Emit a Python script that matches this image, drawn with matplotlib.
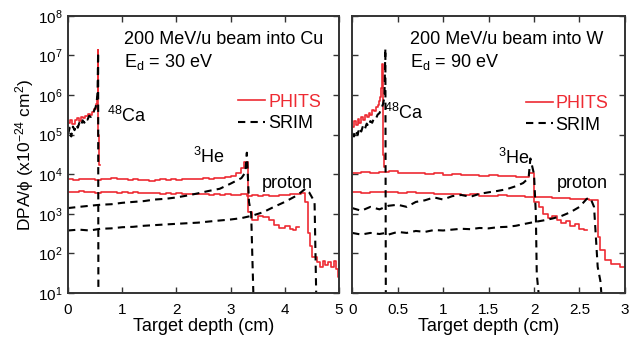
import numpy as np
import matplotlib
matplotlib.use('Agg')
import matplotlib.pyplot as plt
from matplotlib.ticker import NullLocator, FixedLocator

plt.rcParams['font.family'] = ['Liberation Sans', 'DejaVu Sans']
plt.rcParams['mathtext.fontset'] = 'custom'
plt.rcParams['mathtext.rm'] = 'Liberation Sans'
plt.rcParams['mathtext.it'] = 'Liberation Sans:italic'

red = '#ee2b33'

# ---------------- Cu target ----------------
cu_ca_phits_x = [0, 0.04, 0.08, 0.12, 0.16, 0.20, 0.24, 0.28, 0.32, 0.36, 0.40, 0.44,
                 0.48, 0.51, 0.53, 0.545, 0.555, 0.565, 0.575, 0.59]
cu_ca_phits_y = [2.0e5, 2.3e5, 1.9e5, 2.4e5, 2.6e5, 2.2e5, 2.8e5, 2.6e5, 3.0e5, 3.3e5,
                 3.1e5, 3.8e5, 4.5e5, 6e5, 9e5, 1.4e7, 1.0e5, 4e4, 1.7e4, 1.7e4]
cu_ca_srim_x = [0, 0.03, 0.06, 0.09, 0.12, 0.15, 0.18, 0.21, 0.24, 0.27, 0.30, 0.33,
                0.36, 0.39, 0.42, 0.45, 0.48, 0.51, 0.53, 0.545, 0.555, 0.56]
cu_ca_srim_y = [1.0e5, 1.5e5, 0.9e5, 1.6e5, 1.3e5, 1.8e5, 1.5e5, 2.0e5, 1.7e5, 2.3e5,
                2.0e5, 2.6e5, 2.4e5, 3.0e5, 2.8e5, 3.5e5, 4.0e5, 5.0e5, 7e5, 1.2e6,
                1.2e7, 10]

cu_he_phits_x = [0, 0.1, 0.2, 0.3, 0.4, 0.5, 0.6, 0.7, 0.8, 0.9, 1.0, 1.1, 1.2, 1.3,
                 1.4, 1.5, 1.6, 1.7, 1.8, 1.9, 2.0, 2.1, 2.2, 2.3, 2.4, 2.5, 2.6, 2.7,
                 2.8, 2.9, 3.0, 3.1, 3.2, 3.25, 3.33, 3.4, 3.5, 3.6, 3.7, 3.8, 3.9,
                 4.0, 4.1, 4.15, 4.2, 4.26]
cu_he_phits_y = [7.6e3, 7.2e3, 7.8e3, 7.4e3, 7.7e3, 7.3e3, 7.6e3, 7.5e3, 7.9e3, 7.4e3,
                 7.6e3, 7.2e3, 7.5e3, 7.0e3, 7.3e3, 6.9e3, 7.2e3, 7.4e3, 7.1e3, 7.5e3,
                 7.3e3, 7.6e3, 7.4e3, 7.8e3, 7.5e3, 7.9e3, 7.7e3, 8.2e3, 8.0e3, 8.6e3,
                 9.0e3, 1.1e4, 1.4e4, 2.0e4, 1.1e3, 700, 900, 850, 680, 530, 450,
                 500, 420, 380, 470, 470]
cu_he_srim_x = [0, 0.2, 0.4, 0.6, 0.8, 1.0, 1.2, 1.4, 1.6, 1.8, 2.0, 2.2, 2.4, 2.6,
                2.8, 3.0, 3.2, 3.27, 3.30, 3.34, 3.38, 3.40, 3.42]
cu_he_srim_y = [1.4e3, 1.5e3, 1.6e3, 1.7e3, 1.75e3, 1.9e3, 2.0e3, 2.1e3, 2.3e3, 2.4e3,
                2.6e3, 2.9e3, 3.3e3, 3.8e3, 4.3e3, 5.8e3, 8e3, 1.1e4, 3.5e4, 2e3,
                1e3, 100, 10]

cu_p_phits_x = [0, 0.1, 0.2, 0.3, 0.4, 0.5, 0.6, 0.7, 0.8, 0.9, 1.0, 1.1, 1.2, 1.3,
                1.4, 1.5, 1.6, 1.7, 1.8, 1.9, 2.0, 2.1, 2.2, 2.3, 2.4, 2.5, 2.6, 2.7,
                2.8, 2.9, 3.0, 3.1, 3.2, 3.3, 3.4, 3.5, 3.6, 3.7, 3.8, 3.9, 4.0, 4.1,
                4.2, 4.3, 4.38, 4.42, 4.47, 4.5, 4.6, 4.65, 4.7, 4.75, 4.8, 4.85,
                4.9, 4.95, 4.98, 5.0]
cu_p_phits_y = [3.6e3, 3.5e3, 3.7e3, 3.5e3, 3.6e3, 3.4e3, 3.6e3, 3.5e3, 3.6e3, 3.4e3,
                3.5e3, 3.3e3, 3.5e3, 3.4e3, 3.3e3, 3.4e3, 3.3e3, 3.2e3, 3.3e3, 3.2e3,
                3.3e3, 3.2e3, 3.1e3, 3.2e3, 3.1e3, 3.2e3, 3.0e3, 3.1e3, 3.0e3, 3.1e3,
                3.0e3, 3.0e3, 3.1e3, 2.9e3, 3.0e3, 2.9e3, 3.0e3, 2.9e3, 2.9e3, 3.0e3,
                3.0e3, 3.1e3, 3.2e3, 3.4e3, 2.0e3, 330, 150, 80, 60, 45, 65, 50, 60,
                45, 65, 40, 25, 25]
cu_p_srim_x = [0, 0.2, 0.4, 0.6, 0.8, 1.0, 1.2, 1.4, 1.6, 1.8, 2.0, 2.2, 2.4, 2.6,
               2.8, 3.0, 3.2, 3.4, 3.6, 3.8, 4.0, 4.2, 4.3, 4.38, 4.45, 4.55, 4.58]
cu_p_srim_y = [380, 400, 380, 420, 430, 460, 470, 500, 520, 540, 560, 580, 600, 640,
               680, 720, 780, 900, 1.1e3, 1.5e3, 2.0e3, 2.8e3, 3.5e3, 4.3e3, 3.5e3,
               2e3, 10]

# ---------------- W target ----------------
w_ca_phits_x = [0, 0.02, 0.04, 0.06, 0.08, 0.10, 0.12, 0.14, 0.16, 0.18, 0.20, 0.22,
                0.24, 0.26, 0.28, 0.30, 0.31, 0.32, 0.325, 0.335, 0.345, 0.36]
w_ca_phits_y = [1.6e5, 2.2e5, 1.8e5, 2.5e5, 2.0e5, 2.8e5, 2.4e5, 3.2e5, 2.8e5, 3.6e5,
                3.2e5, 4.2e5, 4.0e5, 5e5, 5.5e5, 7e5, 9e5, 1.5e6, 6e6, 3e4, 1.5e4,
                1.5e4]
w_ca_srim_x = [0, 0.02, 0.04, 0.06, 0.08, 0.10, 0.12, 0.14, 0.16, 0.18, 0.20, 0.22,
               0.24, 0.26, 0.28, 0.30, 0.32, 0.34, 0.355, 0.365, 0.37]
w_ca_srim_y = [1.1e5, 0.9e5, 1.3e5, 1.0e5, 1.5e5, 1.2e5, 1.7e5, 1.4e5, 1.9e5, 1.6e5,
               2.2e5, 2.0e5, 2.6e5, 2.5e5, 3.2e5, 3.5e5, 4.5e5, 6e5, 9e5, 1.5e7, 10]

w_he_phits_x = [0, 0.1, 0.2, 0.3, 0.4, 0.5, 0.6, 0.7, 0.8, 0.9, 1.0, 1.1, 1.2, 1.3,
                1.4, 1.5, 1.6, 1.7, 1.8, 1.9, 1.95, 2.0, 2.05, 2.1, 2.15, 2.2, 2.25,
                2.3, 2.35, 2.4, 2.45, 2.5, 2.55, 2.58]
w_he_phits_y = [1.1e4, 1.15e4, 1.1e4, 1.15e4, 1.2e4, 1.1e4, 1.05e4, 1.1e4, 1.0e4,
                1.05e4, 9.8e3, 1.0e4, 9.5e3, 9.7e3, 9.2e3, 9.4e3, 9.0e3, 8.8e3,
                8.6e3, 8.4e3, 1.1e4, 2.0e3, 1.5e3, 1.0e3, 800, 900, 700, 600, 650,
                500, 550, 420, 400, 400]
w_he_srim_x = [0, 0.1, 0.2, 0.3, 0.4, 0.5, 0.6, 0.7, 0.8, 0.9, 1.0, 1.1, 1.2, 1.3,
               1.4, 1.5, 1.6, 1.7, 1.8, 1.88, 1.94, 1.96, 2.0, 2.02, 2.03, 2.05]
w_he_srim_y = [1.4e3, 1.2e3, 1.5e3, 1.3e3, 1.6e3, 1.7e3, 1.5e3, 2.0e3, 2.2e3, 2.6e3,
               2.3e3, 2.8e3, 3.0e3, 2.7e3, 3.2e3, 3.5e3, 3.8e3, 4.2e3, 5e3, 6e3,
               8e3, 2.5e4, 1e4, 1e3, 30, 10]

w_p_phits_x = [0, 0.1, 0.2, 0.3, 0.4, 0.5, 0.6, 0.7, 0.8, 0.9, 1.0, 1.1, 1.2, 1.3,
               1.4, 1.5, 1.6, 1.7, 1.8, 1.9, 2.0, 2.1, 2.2, 2.3, 2.4, 2.5, 2.6,
               2.65, 2.7, 2.73, 2.78, 2.85, 2.95, 3.0]
w_p_phits_y = [3.5e3, 3.4e3, 3.6e3, 3.6e3, 3.5e3, 3.4e3, 3.5e3, 3.3e3, 3.4e3, 3.2e3,
               3.1e3, 3.2e3, 3.0e3, 3.1e3, 2.9e3, 2.9e3, 3.0e3, 2.8e3, 2.8e3, 2.7e3,
               2.6e3, 2.6e3, 2.5e3, 2.5e3, 2.4e3, 2.4e3, 2.3e3, 2.2e3, 260, 125,
               70, 55, 46, 46]
w_p_srim_x = [0, 0.1, 0.2, 0.3, 0.37, 0.4, 0.5, 0.6, 0.7, 0.8, 0.9, 1.0, 1.1, 1.2,
              1.3, 1.4, 1.5, 1.6, 1.7, 1.8, 1.9, 2.0, 2.1, 2.2, 2.3, 2.4, 2.5, 2.58,
              2.62, 2.66, 2.7, 2.73, 2.74]
w_p_srim_y = [330, 300, 330, 310, 330, 300, 350, 330, 370, 350, 390, 380, 400, 420,
              410, 440, 430, 460, 470, 500, 560, 620, 680, 760, 880, 1.1e3, 1.5e3,
              2.4e3, 2.5e3, 1.5e3, 46, 20, 10]

yticks = [1e1, 1e2, 1e3, 1e4, 1e5, 1e6, 1e7, 1e8]
ytick_labels = [r'$10^{%d}$' % i for i in range(1, 9)]
cu_xticks = [0, 1, 2, 3, 4, 5]
cu_xlabels = ['0', '1', '2', '3', '4', '5']
w_xticks = [0, 0.5, 1, 1.5, 2, 2.5, 3]
w_xlabels = ['0', '0.5', '1', '1.5', '2', '2.5', '3']

fig = plt.figure(figsize=(6.3, 3.38), dpi=100)
ax1 = fig.add_axes([0.108, 0.133, 0.430, 0.820])
ax2 = fig.add_axes([0.559, 0.133, 0.433, 0.820])

def phits(ax, x, y, label=None):
    ax.plot(x, y, color=red, lw=1.2, drawstyle='steps-post', label=label)

def srim(ax, x, y, label=None):
    ax.plot(x, y, color='black', lw=1.5, ls=(0, (3.5, 2.5)), label=label)

phits(ax1, cu_ca_phits_x, cu_ca_phits_y, 'PHITS')
phits(ax1, cu_he_phits_x, cu_he_phits_y)
phits(ax1, cu_p_phits_x, cu_p_phits_y)
srim(ax1, cu_ca_srim_x, cu_ca_srim_y, 'SRIM')
srim(ax1, cu_he_srim_x, cu_he_srim_y)
srim(ax1, cu_p_srim_x, cu_p_srim_y)

phits(ax2, w_ca_phits_x, w_ca_phits_y, 'PHITS')
phits(ax2, w_he_phits_x, w_he_phits_y)
phits(ax2, w_p_phits_x, w_p_phits_y)
srim(ax2, w_ca_srim_x, w_ca_srim_y, 'SRIM')
srim(ax2, w_he_srim_x, w_he_srim_y)
srim(ax2, w_p_srim_x, w_p_srim_y)

fs = 13
for ax, xt, xl, xmax in [(ax1, cu_xticks, cu_xlabels, 5), (ax2, w_xticks, w_xlabels, 3)]:
    ax.set_yscale('log')
    ax.set_ylim(1e1, 1e8)
    ax.set_xlim(0, xmax)
    ax.set_yticks(yticks)
    ax.yaxis.set_minor_locator(NullLocator())
    ax.set_xticks(xt)
    ax.set_xticklabels(xl)
    ax.tick_params(direction='in', top=True, right=True, length=4, width=1,
                   labelsize=11, color='#333333', pad=4)
    ax.tick_params(axis='x', pad=7)
    for s in ax.spines.values():
        s.set_linewidth(1.4)
        s.set_color('#333333')
    ax.set_xlabel('Target depth (cm)', fontsize=fs, labelpad=1)
    ax.legend(loc='upper right', frameon=False, fontsize=fs,
              handlelength=1.5, handletextpad=0.15, labelspacing=0.25,
              labelcolor='linecolor', borderaxespad=0)

ax1.legend_.set_bbox_to_anchor((0.96, 0.745))
ax2.legend_.set_bbox_to_anchor((0.965, 0.74))

ax1.set_yticklabels(ytick_labels)
ax2.set_yticklabels([])
ax1.set_ylabel(r'DPA/$\mathregular{\phi}$ (x10$^{-24}$ cm$^{2}$)', fontsize=12.5, labelpad=1)

ax1.text(0.207, 0.913, '200 MeV/u beam into Cu', transform=ax1.transAxes, fontsize=fs, va='center')
ax1.text(0.207, 0.834, r'E$_\mathregular{d}$ = 30 eV', transform=ax1.transAxes, fontsize=fs, va='center')
ax1.text(0.72, 3e5, r'$^{48}$Ca', fontsize=fs, va='center')
ax1.text(2.3, 2.7e4, r'$^{3}$He', fontsize=fs, va='center')
ax1.text(3.58, 5.7e3, 'proton', fontsize=fs, va='center')

ax2.text(0.212, 0.913, '200 MeV/u beam into W', transform=ax2.transAxes, fontsize=fs, va='center')
ax2.text(0.212, 0.834, r'E$_\mathregular{d}$ = 90 eV', transform=ax2.transAxes, fontsize=fs, va='center')
ax2.text(0.35, 3.5e5, r'$^{48}$Ca', fontsize=fs, va='center')
ax2.text(1.6, 2.6e4, r'$^{3}$He', fontsize=fs, va='center')
ax2.text(2.25, 5.7e3, 'proton', fontsize=fs, va='center')

fig.savefig('out.png', dpi=100)
